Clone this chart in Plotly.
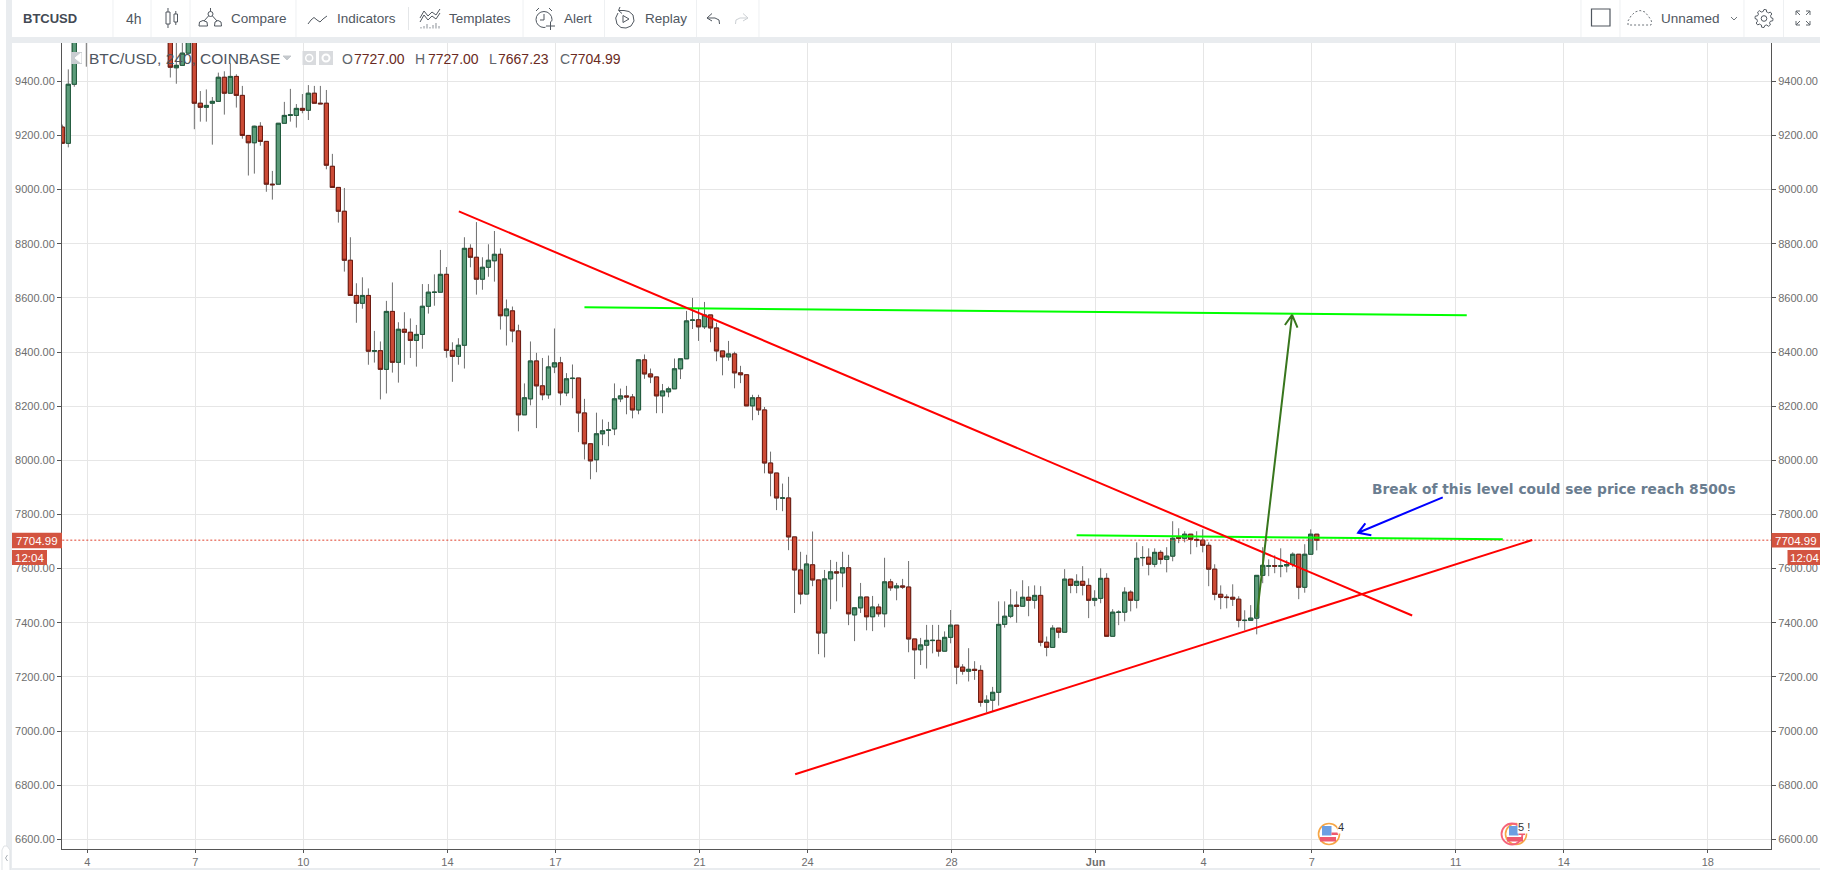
import math
import plotly.graph_objects as go

# ---------- data: 4h candles, one entry per bar (None = bar lies wholly above the visible range) ----------
N = None
opens = [
 9231,9171,9389,N,9620,N,N,N,N,N,
 N,N,N,N,N,N,N,N,9620,9450,
 9459,9504,9600,9319,9304,9319,9326,9415,9356,9418,
 9348,9200,9173,9234,9178,9020,9020,9245,9274,9274,
 9300,9293,9356,9319,9319,9086,9008,8920,8739,8609,
 8580,8609,8403,8405,8336,8550,8362,8484,8473,8443,
 8465,8569,8620,8621,8687,8406,8384,8425,8783,8750,
 8669,8713,8737,8761,8534,8552,8478,8168,8227,8367,
 8275,8242,8345,8360,8249,8302,8304,8175,8061,8002,
 8098,8111,8116,8227,8238,8234,8186,8371,8319,8308,
 8238,8253,8264,8338,8375,8517,8519,8493,8537,8489,
 8404,8382,8393,8323,8316,8201,8231,8186,7990,7953,
 7860,7861,7717,7595,7506,7614,7558,7362,7562,7588,
 7584,7603,7429,7455,7495,7422,7458,7433,7551,7529,
 7536,7532,7340,7300,7317,7334,7335,7295,7346,7391,
 7236,7221,7228,7224,7106,7114,7143,7394,7424,7465,
 7461,7494,7483,7501,7328,7309,7380,7365,7561,7538,
 7553,7538,7483,7490,7564,7350,7438,7439,7513,7483,
 7640,7642,7616,7660,7634,7646,7716,7712,7727,7708,
 7705,7686,7598,7505,7495,7494,7487,7408,7409,7417,
 7575,7609,7611,7609,7610,7615,7653,7531,7653,7727]
highs = [
 9240,9444,9640,N,9650,N,N,N,N,N,
 N,N,N,N,N,N,N,N,9640,9600,
 9600,9640,9620,9364,9370,9342,9432,9437,9466,9426,
 9383,9200,9236,9249,9178,9069,9245,9324,9372,9316,
 9353,9386,9383,9383,9368,9132,9008,9006,8824,8654,
 8676,8635,8478,8439,8589,8657,8510,8547,8524,8500,
 8651,8651,8687,8777,8714,8436,8451,8824,8798,8880,
 8750,8798,8847,8783,8594,8568,8501,8284,8439,8397,
 8378,8387,8487,8382,8322,8354,8304,8227,8061,8176,
 8151,8142,8284,8265,8275,8245,8371,8391,8339,8308,
 8282,8272,8376,8375,8552,8600,8560,8585,8537,8508,
 8404,8441,8401,8349,8316,8242,8242,8197,8032,7953,
 7914,7939,7717,7662,7651,7737,7558,7595,7632,7625,
 7662,7651,7455,7547,7495,7499,7470,7640,7562,7547,
 7562,7628,7340,7344,7392,7392,7392,7368,7447,7391,
 7247,7306,7258,7243,7132,7163,7479,7479,7524,7516,
 7557,7535,7538,7535,7349,7391,7380,7598,7561,7579,
 7609,7564,7520,7601,7583,7450,7446,7531,7520,7697,
 7683,7675,7675,7668,7679,7775,7749,7738,7727,7738,
 7745,7697,7616,7538,7505,7542,7498,7446,7465,7575,
 7679,7634,7649,7675,7631,7660,7653,7690,7745,7727]
lows = [
 9171,9156,9380,N,9454,N,N,N,N,N,
 N,N,N,N,N,N,N,N,9414,9391,
 9459,9504,9223,9251,9251,9166,9326,9277,9356,9303,
 9188,9052,9059,9162,8992,8963,9020,9245,9251,9229,
 9282,9257,9319,9317,9075,9006,8878,8697,8609,8508,
 8560,8353,8361,8225,8247,8324,8287,8353,8378,8346,
 8412,8542,8571,8621,8379,8290,8353,8339,8713,8612,
 8630,8678,8660,8483,8424,8436,8107,8168,8203,8119,
 8222,8227,8322,8203,8237,8229,8104,8003,7930,7956,
 8056,8052,8093,8215,8170,8155,8170,8301,8285,8174,
 8174,8233,8264,8300,8375,8485,8441,8485,8436,8366,
 8314,8368,8266,8285,8201,8148,8167,7952,7867,7816,
 7812,7668,7436,7468,7506,7535,7284,7272,7450,7479,
 7531,7391,7332,7436,7372,7369,7422,7383,7518,7483,
 7525,7291,7192,7244,7231,7287,7275,7295,7324,7173,
 7208,7183,7189,7090,7069,7073,7094,7382,7417,7400,
 7461,7424,7452,7313,7276,7309,7343,7365,7509,7509,
 7501,7417,7461,7472,7350,7350,7391,7405,7442,7453,
 7609,7575,7605,7616,7586,7627,7694,7697,7653,7679,
 7660,7535,7483,7450,7453,7462,7383,7372,7409,7357,
 7546,7572,7583,7568,7586,7605,7487,7511,7653,7667.23]
closes = [
 9171,9389,9600,N,9600,N,N,N,N,N,
 N,N,N,N,N,N,N,N,9452,9459,
 9504,9600,9319,9304,9311,9326,9415,9356,9418,9348,
 9200,9173,9234,9178,9020,9018,9245,9274,9276,9300,
 9293,9356,9319,9317,9090,9008,8920,8739,8609,8580,
 8609,8403,8405,8336,8550,8362,8484,8473,8443,8465,
 8569,8621,8621,8687,8406,8384,8425,8783,8750,8669,
 8713,8739,8761,8534,8559,8478,8168,8231,8367,8275,
 8242,8345,8360,8249,8301,8303,8175,8061,7998,8098,
 8109,8112,8227,8238,8234,8186,8371,8319,8308,8238,
 8256,8264,8338,8375,8515,8518,8493,8537,8489,8404,
 8382,8393,8323,8316,8201,8231,8186,7990,7953,7861,
 7861,7717,7595,7506,7617,7558,7362,7562,7588,7584,
 7603,7433,7455,7495,7422,7458,7433,7551,7529,7536,
 7532,7340,7300,7318,7335,7335,7295,7346,7391,7236,
 7221,7228,7224,7106,7114,7143,7394,7424,7465,7461,
 7494,7483,7501,7328,7309,7380,7365,7561,7538,7553,
 7538,7483,7490,7564,7350,7439,7439,7513,7483,7638,
 7641,7616,7660,7634,7646,7712,7712,7727,7708,7705,
 7686,7598,7505,7494,7493,7487,7409,7409,7417,7575,
 7612,7610,7609,7610,7615,7653,7531,7653,7727,7704.99]

day_offsets = [0, 3, 6, 10, 13, 17, 20, 24, 28, 31, 34, 38, 41, 45]
day_labels = ["4", "7", "10", "14", "17", "21", "24", "28", "<b>Jun</b>", "4", "7", "11", "14", "18"]
price_ticks = [6600, 6800, 7000, 7200, 7400, 7600, 7800, 8000, 8200, 8400, 8600, 8800, 9000, 9200, 9400]
last_price = 7704.99

# drawings, as (bar, price)
falling_bars = [66.07, 224.9];   falling_prices = [8919.8, 7426.7]
rising_bars = [122.1, 244.9];    rising_prices = [6840.4, 7705.6]
target_bars = [87, 234];         target_prices = [8565.2, 8535.6]
level_bars = [169, 240];         level_prices = [7723, 7708.1]
up_arrow_bars = [199, 204.9, 203.7, 204.9, 205.8]
up_arrow_prices = [7422, 8537, 8499.8, 8537, 8489.8]
note_arrow_bars = [230, 215.9, 217.1, 215.9, 218.1]
note_arrow_prices = [7863.3, 7732.5, 7767.2, 7732.5, 7723]

# ---------- page geometry ----------
W, H = 1831, 870
L, R, T, B = 62, 1771, 43, 849
BAR0, BARW = 62.3, 6.002
PRICE_TOP, PRICE_BOTTOM = 9541.5, 6564.2
FONT = "Liberation Sans"
INK = "#50575f"
GREY = "#e9ecef"

def xp(x): return (x - L) / (R - L)
def yp(y): return 1 - (y - T) / (B - T)

shapes, notes = [], []

def rect(x0, y0, x1, y1, fill, line=None, width=1, layer="above"):
    shapes.append(dict(type="rect", xref="paper", yref="paper", x0=xp(x0), x1=xp(x1), y0=yp(y0), y1=yp(y1),
                       fillcolor=fill, line=dict(color=line or fill, width=width if line else 0), layer=layer))

def circle(cx, cy, r, line=INK, width=1, fill=None, dash=None):
    shapes.append(dict(type="circle", xref="paper", yref="paper", x0=xp(cx - r), x1=xp(cx + r), y0=yp(cy - r), y1=yp(cy + r),
                       fillcolor=fill or "rgba(0,0,0,0)", line=dict(color=line, width=width, dash=dash or "solid"), layer="above"))

def poly(pts, line=INK, width=1, close=False, fill=None, dash=None):
    d = "M" + " L".join(f"{xp(a):.5f},{yp(b):.5f}" for a, b in pts) + (" Z" if close else "")
    shapes.append(dict(type="path", xref="paper", yref="paper", path=d, fillcolor=fill or "rgba(0,0,0,0)",
                       line=dict(color=line, width=width, dash=dash or "solid"), layer="above"))

def text(x, y, s, size=13, color=INK, anchor="left", family=FONT, bg=None):
    notes.append(dict(xref="paper", yref="paper", x=xp(x), y=yp(y), text=s, showarrow=False, xanchor=anchor, yanchor="middle",
                      font=dict(family=family, size=size, color=color), bgcolor=bg, borderpad=0))

# page chrome
rect(0, 0, W, 37, "#ffffff")
rect(6, 0, 12, H, GREY)
rect(12, 37, 1820, 43, GREY)
rect(12, 868, 1820, H, GREY)
for sx in [113, 151, 190, 296, 523, 604.5, 696.5, 759, 1581, 1620, 1744, 1783.5]:
    poly([(sx, 0), (sx, 37)], line="#eef0f2", width=1)
poly([(408.5, 7), (408.5, 30)], line="#e4e6e8", width=1)
poly([(10, 870), (10, 850), (7, 846), (4, 846), (2, 850), (2, 870)], line="#dfe2e5", fill="#ffffff")
poly([(7.5, 855), (5.5, 858), (7.5, 861)], line="#a9afb5")

# toolbar text
text(22, 19, "<b>BTCUSD</b>", 13, "#434a54")
text(125, 19, "4h", 14)
text(230, 18.5, "Compare", 13.5)
text(336, 18.5, "Indicators", 13.5)
text(447.5, 18.5, "Templates", 13.5)
text(563, 18.5, "Alert", 13.5)
text(644, 18.5, "Replay", 13.5)
text(1659.5, 18.5, "Unnamed", 13.5)

# toolbar icons
poly([(168, 8), (168, 28)]); rect(166, 12, 170, 24, "#ffffff", INK)
poly([(175.8, 11), (175.8, 25)]); rect(174, 14, 177.5, 22, "#ffffff", INK)
circle(210.5, 14, 2.5); poly([(208.5, 16), (204, 21)]); poly([(212.5, 16), (217, 21)]); poly([(210.5, 8), (210.5, 11.5)])
poly([(199, 26), (199.5, 22), (203, 20.5), (207, 22), (207.5, 26), (199, 26)])
poly([(214.5, 26), (215, 22), (218, 20.5), (221, 22), (221.5, 26), (214.5, 26)])
poly([(308, 24), (311, 20), (314, 17.5), (317, 20), (320, 22), (323, 19), (327, 16)])
poly([(420, 18), (424, 11), (428, 16), (432, 12), (436, 15), (440, 9)])
poly([(420, 22), (424, 15), (428, 20), (432, 16), (436, 19), (440, 13)])
for bx, by in [(421, 27), (424, 26), (427, 24), (430, 27), (433, 25), (436, 23), (439, 26)]:
    poly([(bx, 28.5), (bx, by)], line="#8a9097")
circle(544, 19.5, 8)
poly([(544, 14), (544, 20), (540, 20)])
poly([(536, 11), (539, 8)]); poly([(549, 8), (552, 11)])
rect(545.5, 21.5, 555, 29.5, "#ffffff"); poly([(546, 26), (555, 26)]); poly([(550.5, 21.5), (550.5, 30)])
poly([(618, 13), (615.7, 18), (617, 24), (621, 27.5), (626, 28), (631, 26), (634, 21), (633, 15), (629, 11.5), (624, 10.5), (619, 10.5)])
poly([(620, 7), (618.5, 10.5), (622, 13.5)])
poly([(623, 15.5), (629, 19), (623, 22.5)], close=True)
poly([(707, 18), (712, 13.5)]); poly([(707, 18), (712, 21)]); poly([(707, 18), (715, 18), (719, 20), (719.5, 24)])
poly([(748, 18), (743, 13.5)], line="#ccd0d4"); poly([(748, 18), (743, 21)], line="#ccd0d4"); poly([(748, 18), (740, 18), (736, 20), (735.5, 24)], line="#ccd0d4")
shapes.append(dict(type="rect", xref="paper", yref="paper", x0=xp(1591.5), x1=xp(1610), y0=yp(26), y1=yp(9),
                   line=dict(color=INK, width=1.2), fillcolor="rgba(0,0,0,0)", layer="above"))
poly([(1628, 25), (1628, 21), (1631, 16), (1635, 12), (1640, 10.5), (1645, 12), (1649, 17), (1651.5, 21), (1651, 25), (1628, 25)], line="#70767c", dash="2px,2px")
poly([(1731, 17), (1734, 20), (1737, 17)], line="#70767c")
gear = []
for i in range(48):
    a = i * 2 * math.pi / 48
    r = 9 if (i % 6) in (0, 1, 2) else 7
    gear.append((1764 + r * math.cos(a), 18.5 + r * math.sin(a)))
poly(gear, close=True); circle(1764, 18.5, 2.8)
for (a, b, sa, sb) in [(1796, 11, 1, 1), (1810, 11, -1, 1), (1796, 25, 1, -1), (1810, 25, -1, -1)]:
    poly([(a + 4 * sa, b), (a, b), (a, b + 4 * sb)], line="#5f656b"); poly([(a, b), (a + 4 * sa, b + 4 * sb)], line="#5f656b")

# legend line over the chart
rect(71, 52, 82, 64, "#c9cdd1"); poly([(81, 53), (75, 58), (81, 63)], fill="#ffffff", line="#ffffff", close=True)
text(88, 58, "BTC/USD, 240, COINBASE", 15.5, "#4e5560")
poly([(283, 56), (291, 56), (287, 60)], close=True, fill="#c4c8cc", line="#c4c8cc")
rect(302.5, 51, 316, 65, "#d9dbde"); circle(309.2, 58, 3.5, line="#ffffff", width=1.5); 
rect(319, 51, 333, 65, "#d9dbde"); circle(326, 58, 3.5, line="#ffffff", width=2)
DK = "#6a2a22"
for x0, lab, x1, val in [(341, "O", 353, "7727.00"), (414, "H", 427, "7727.00"), (488, "L", 497, "7667.23"), (559, "C", 569.4, "7704.99")]:
    text(x0, 58.5, lab, 14, "#60666c")
    text(x1, 58.5, val, 14, DK)

# price tags
PRICE_TAG = "#d35440"
rect(12, 532.7, 62, 548.3, PRICE_TAG); text(37, 540.5, "7704.99", 11.5, "#ffffff", "center")
rect(12, 550, 47, 565, PRICE_TAG); text(29.5, 557.5, "12:04", 11.5, "#ffffff", "center")
rect(1771.5, 533, 1820, 547.5, PRICE_TAG); text(1796, 540.5, "7704.99", 11.5, "#ffffff", "center")
rect(1787.5, 550, 1820, 565, PRICE_TAG); text(1804, 557.5, "12:04", 11.5, "#ffffff", "center")

# note
text(1371.4, 489, "<b>Break of this level could see price reach 8500s</b>", 13.8, "#6a7d90", family="DejaVu Sans")

# economic-event flags
def flag(cx, cy, ring2=None):
    circle(cx, cy, 10.5, line="#f6a646", width=1.6, fill="#ffffff")
    if ring2:
        circle(cx - 4, cy, 10.5, line=ring2, width=1.8)
    rect(cx - 7, cy - 8, cx + 2.5, cy + 1.5, "#6d9fe2")
    rect(cx + 2.5, cy - 1.5, cx + 9, cy + 1, "#ee5a6f")
    rect(cx - 9, cy + 3, cx + 7, cy + 7.5, "#ee5a6f")
flag(1329, 834)
flag(1516, 834, ring2="#f5637a")
text(1336.5, 827, "4", 11, "#333333", bg="#ffffff")
text(1516.5, 827, "5 !", 11, "#333333", bg="#ffffff")

# ---------- traces ----------
bars = list(range(len(opens)))
idx = [i for i in bars if opens[i] is not None]
sel = lambda s: [s[i] for i in idx]
x_val = sel(bars)
o, h, l, c = sel(opens), sel(highs), sel(lows), sel(closes)

fig = go.Figure()
# wicks
fig.add_trace(go.Candlestick(
    x=x_val, open=o, high=h, low=l, close=c, hoverinfo="skip",
    increasing=dict(line=dict(color="#6f6f6f", width=1), fillcolor="#6f6f6f"),
    decreasing=dict(line=dict(color="#6f6f6f", width=1), fillcolor="#6f6f6f")))
# bodies
fig.add_trace(go.Candlestick(
    x=x_val, open=o, close=c,
    high=[max(a, b) for a, b in zip(o, c)], low=[min(a, b) for a, b in zip(o, c)], hoverinfo="skip",
    increasing=dict(line=dict(color="#1f5a3c", width=1), fillcolor="#5c9c7a"),
    decreasing=dict(line=dict(color="#6e1c12", width=1), fillcolor="#cc4b36")))

def line_tr(xs, ys, color, width=2, dash=None):
    fig.add_trace(go.Scatter(x=xs, y=ys, mode="lines", yaxis="y2", hoverinfo="skip",
                             line=dict(color=color, width=width, dash=dash)))

line_tr([bars[0], (R - BAR0) / BARW], [last_price, last_price], "#e0402c", 1, "2px,2px")
line_tr(target_bars, target_prices, "#00ff00")
line_tr(level_bars, level_prices, "#00ff00")
line_tr(falling_bars, falling_prices, "#ff0000")
line_tr(rising_bars, rising_prices, "#ff0000")
line_tr(up_arrow_bars, up_arrow_prices, "#38761d")
line_tr(note_arrow_bars, note_arrow_prices, "#0000ff")

price_axis = dict(range=[PRICE_BOTTOM, PRICE_TOP], tickvals=price_ticks, tickformat=".2f", ticks="outside", ticklen=4, tickcolor="#555555",
                  tickfont=dict(family=FONT, size=11, color="#6e6e6e"), showline=True, linecolor="#555555", linewidth=1, fixedrange=True,
                  zeroline=False, automargin=False)

fig.update_layout(
    width=W, height=H, margin=dict(l=L, r=W - R, t=T, b=H - B, pad=0), autosize=False,
    paper_bgcolor="#ffffff", plot_bgcolor="#ffffff", showlegend=False, boxgap=0.3, boxgroupgap=0,
    xaxis=dict(range=[(L - BAR0) / BARW, (R - BAR0) / BARW], tickvals=[4.165 + 6 * d for d in day_offsets], ticktext=day_labels,
               ticks="outside", ticklen=3, tickcolor="#555555", tickfont=dict(family=FONT, size=11, color="#6e6e6e"),
               showline=True, linecolor="#555555", linewidth=1, showgrid=True, gridcolor="#e6e6e6", gridwidth=1,
               rangeslider=dict(visible=False), fixedrange=True, zeroline=False, automargin=False),
    yaxis=dict(side="left", showgrid=True, gridcolor="#e6e6e6", gridwidth=1, **price_axis),
    yaxis2=dict(side="right", overlaying="y", showgrid=False, **price_axis),
    shapes=shapes, annotations=notes,
)

fig.write_html("out.html", config=dict(displayModeBar=False),
               post_script="document.body.style.margin='0';document.body.style.overflow='hidden';")
